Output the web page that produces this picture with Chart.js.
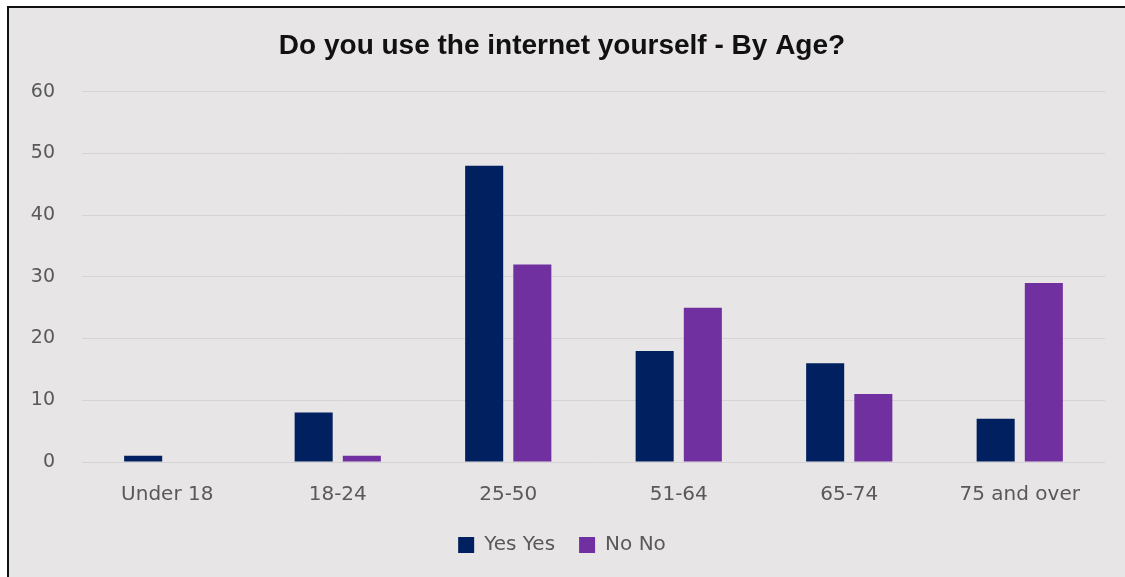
<!DOCTYPE html>
<html>
<head>
<meta charset="utf-8">
<script src="https://cdn.jsdelivr.net/npm/chart.js@4/dist/chart.umd.min.js"></script>
<style>
  html, body { margin: 0; padding: 0; background: #ffffff; }
  #frame {
    position: absolute;
    left: 7px;
    top: 6px;
    width: 1118px;
    height: 571px;
    border-left: 2px solid #111;
    border-top: 2px solid #111;
    background: #e7e5e6;
  }
  #chart { display: block; }
</style>
</head>
<body>
<div id="frame"><canvas id="chart" width="1118" height="571"></canvas></div>
<script>
// Data
const ageGroups = ['Under 18', '18-24', '25-50', '51-64', '65-74', '75 and over'];
const yesValues = [1, 8, 48, 18, 16, 7];
const noValues = [0, 1, 32, 25, 11, 29];
const yTicks = [0, 10, 20, 30, 40, 50, 60];

const navy = '#002060';
const purple = '#7030a0';
const tickColor = '#595959';
const gridColor = '#d5d3d4';

const ctx = document.getElementById('chart');

new Chart(ctx, {
  type: 'bar',
  data: {
    labels: ageGroups,
    datasets: [
      {
        label: 'Yes Yes',
        data: yesValues,
        backgroundColor: navy,
        categoryPercentage: 0.565,
        barPercentage: 0.79,
      },
      {
        label: 'No No',
        data: noValues,
        backgroundColor: purple,
        categoryPercentage: 0.565,
        barPercentage: 0.79,
      },
    ],
  },
  options: {
    responsive: false,
    animation: false,
    layout: {
      padding: { left: 10, right: 22, top: 0, bottom: 14 },
    },
    scales: {
      y: {
        min: 0,
        max: 60,
        afterFit: (scale) => { scale.width = 63; },
        afterBuildTicks: (scale) => {
          scale.ticks = yTicks.map(v => ({ value: v }));
        },
        border: { display: false },
        grid: {
          color: gridColor,
          lineWidth: 1,
          drawTicks: false,
        },
        ticks: {
          padding: 27,
          color: tickColor,
          font: { family: 'DejaVu Sans', size: 19 },
        },
      },
      x: {
        border: { display: false },
        grid: { display: false },
        afterFit: (scale) => { scale.height = scale.height - 9; },
        ticks: {
          padding: 13,
          color: tickColor,
          font: { family: 'DejaVu Sans', size: 20 },
        },
      },
    },
    plugins: {
      title: {
        display: true,
        text: 'Do you use the internet yourself - By Age?',
        color: '#111',
        font: { family: 'Liberation Sans', size: 28, weight: 'bold' },
        padding: { top: 21, bottom: 29 },
      },
      legend: {
        position: 'bottom',
        labels: {
          boxWidth: 16,
          boxHeight: 16,
          padding: 24,
          color: tickColor,
          font: { family: 'DejaVu Sans', size: 20 },
        },
      },
      tooltip: { enabled: false },
    },
  },
});
</script>
</body>
</html>
